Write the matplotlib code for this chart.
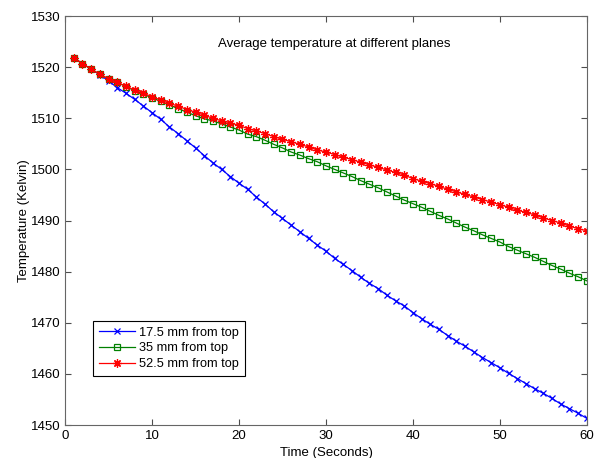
import numpy as np
import matplotlib.pyplot as plt

plt.rcParams['font.family'] = ['Liberation Sans', 'DejaVu Sans']

# time in seconds
t = np.arange(1, 61)

# 17.5 mm from top
temp_17 = [1521.8, 1520.7, 1519.6, 1518.5, 1517.3, 1516.0, 1514.9, 1513.7, 1512.4, 1511.1,
           1509.8, 1508.3, 1507.0, 1505.6, 1504.2, 1502.7, 1501.3, 1500.0, 1498.6, 1497.3,
           1496.1, 1494.6, 1493.2, 1491.7, 1490.4, 1489.1, 1487.8, 1486.5, 1485.2, 1484.0,
           1482.6, 1481.4, 1480.2, 1478.9, 1477.7, 1476.7, 1475.4, 1474.3, 1473.3, 1472.0,
           1470.8, 1469.7, 1468.7, 1467.5, 1466.4, 1465.4, 1464.3, 1463.2, 1462.2, 1461.2,
           1460.1, 1459.1, 1458.1, 1457.1, 1456.2, 1455.2, 1454.1, 1453.2, 1452.3, 1451.3]

# 35 mm from top
temp_35 = [1521.8, 1520.7, 1519.6, 1518.6, 1517.7, 1517.0, 1516.2, 1515.4, 1514.7, 1514.0,
           1513.3, 1512.6, 1511.9, 1511.2, 1510.5, 1509.9, 1509.5, 1508.9, 1508.3, 1507.7,
           1506.9, 1506.4, 1505.7, 1504.9, 1504.2, 1503.4, 1502.8, 1502.1, 1501.5, 1500.7,
           1500.0, 1499.3, 1498.6, 1497.8, 1497.1, 1496.4, 1495.6, 1494.8, 1494.0, 1493.3,
           1492.6, 1491.8, 1491.0, 1490.3, 1489.5, 1488.7, 1488.0, 1487.2, 1486.5, 1485.8,
           1484.9, 1484.2, 1483.5, 1482.8, 1482.0, 1481.2, 1480.5, 1479.7, 1479.0, 1478.2]

# 52.5 mm from top
temp_52 = [1521.8, 1520.7, 1519.6, 1518.6, 1517.7, 1517.0, 1516.3, 1515.5, 1514.9, 1514.2,
           1513.6, 1512.9, 1512.4, 1511.7, 1511.2, 1510.6, 1510.0, 1509.5, 1509.1, 1508.6,
           1508.0, 1507.5, 1507.0, 1506.4, 1505.9, 1505.4, 1504.9, 1504.4, 1503.8, 1503.4,
           1502.9, 1502.4, 1501.9, 1501.4, 1500.9, 1500.4, 1499.9, 1499.4, 1498.9, 1498.2,
           1497.7, 1497.2, 1496.7, 1496.1, 1495.6, 1495.1, 1494.6, 1494.1, 1493.6, 1493.1,
           1492.6, 1492.0, 1491.6, 1491.1, 1490.5, 1490.0, 1489.5, 1488.9, 1488.4, 1488.0]

labels = ['17.5 mm from top', '35 mm from top', '52.5 mm from top']

fig = plt.figure(figsize=(5.97, 4.58), dpi=100)
ax = fig.add_axes([0.109, 0.072, 0.874, 0.893])

ax.plot(t, temp_17, color='blue', marker='x', markersize=5, lw=0.9, mew=0.9, label=labels[0])
ax.plot(t, temp_35, color='#008000', marker='s', markersize=5, lw=0.9, mew=0.9,
        markerfacecolor='none', label=labels[1])
ax.plot(t, temp_52, color='red', marker=(8, 2, 0), markersize=6, lw=0.9, mew=0.9, label=labels[2])

ax.set_xlim(0, 60)
ax.set_ylim(1450, 1530)
ax.set_xticks(np.arange(0, 61, 10))
ax.set_yticks(np.arange(1450, 1531, 10))
ax.tick_params(direction='in', top=True, right=True, labelsize=9.5, length=4, color='0.3')
for s in ax.spines.values():
    s.set_color('0.4')

ax.set_xlabel('Time (Seconds)', fontsize=9.5, labelpad=4)
ax.set_ylabel('Temperature (Kelvin)', fontsize=9.5, labelpad=0)
ax.text(31, 1524.6, 'Average temperature at different planes', ha='center', va='center', fontsize=9.5)

leg = ax.legend(loc='lower left', bbox_to_anchor=(0.054, 0.12), fontsize=9.2, fancybox=False,
                edgecolor='black', framealpha=1, borderpad=0.45, labelspacing=0.3,
                handlelength=2.8, handletextpad=0.35, borderaxespad=0)
leg.get_frame().set_linewidth(0.8)

fig.savefig('out.png', dpi=100)
